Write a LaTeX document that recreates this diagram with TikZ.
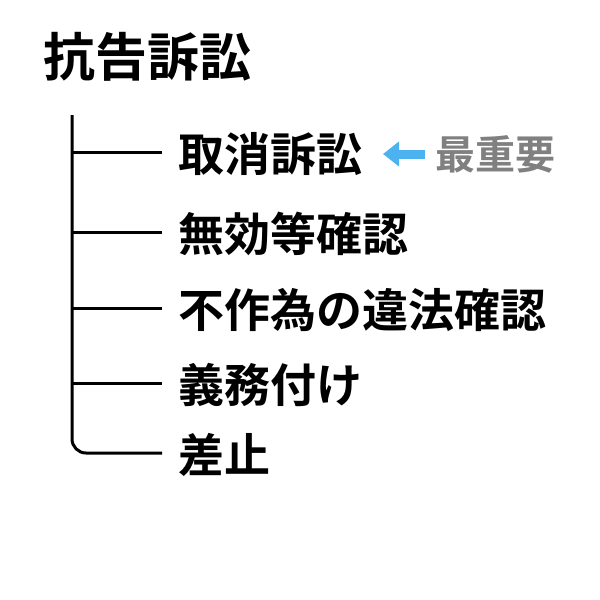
\documentclass[tikz,border=0pt]{standalone}
\usepackage{fontspec}
\newfontfamily\cjk{Noto Sans CJK JP Bold}
\usetikzlibrary{arrows.meta}
\definecolor{arrowblue}{HTML}{4DB3F0}
\definecolor{notegray}{HTML}{808080}

\begin{document}
\begin{tikzpicture}[x=1pt,y=-1pt]
        % Define styles
        \tikzset{
            item/.style={anchor=west, inner sep=0pt, font=\cjk\fontsize{46}{46}\selectfont},
            branch/.style={line width=3pt},
            arrow/.style={-{Triangle[length=16pt,width=24pt]}, line width=9pt, arrowblue}
        }
        \useasboundingbox (0,0) rectangle (600,600);

        % Title
        \node[item, font=\cjk\fontsize{52}{52}\selectfont] (title) at (43,57) {抗告訴訟};

        % Items
        \node[item] (item1) at (178,154) {取消訴訟};
        \node[item] (item2) at (178,234) {無効等確認};
        \node[item] (item3) at (178,310) {不作為の違法確認};
        \node[item] (item4) at (178,385) {義務付け};
        \node[item] (item5) at (178,455) {差止};

        % Tree
        \coordinate (top) at (72,115);
        \draw[branch, rounded corners=14pt] (top) |- (162,453);
        \foreach \y in {152,232,308,383} {
            \draw[branch] (72,\y) -- (162,\y);
        }

        % Note
        \node[item, font=\cjk\fontsize{40}{40}\selectfont, text=notegray] (note) at (435,154) {最重要};
        \draw[arrow] (note.west) ++(-10,0) -- (383,154);
\end{tikzpicture}
\end{document}
